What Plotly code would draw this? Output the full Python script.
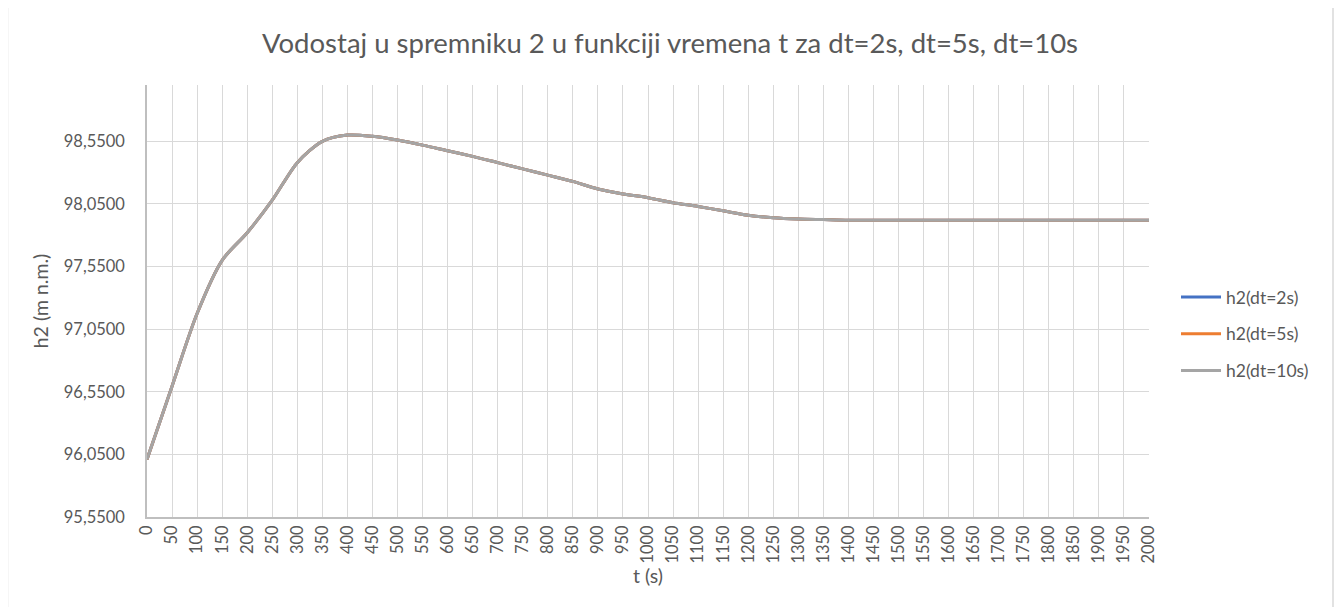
import plotly.graph_objects as go

# Time categories (s)
t_s = [0, 50, 100, 150, 200, 250, 300, 350, 400, 450, 500, 550, 600, 650, 700,
       750, 800, 850, 900, 950, 1000, 1050, 1100, 1150, 1200, 1250, 1300, 1350,
       1400, 1450, 1500, 1550, 1600, 1650, 1700, 1750, 1800, 1850, 1900, 1950, 2000]

# Water level h2 (m n.m.) for the three time steps (curves coincide)
h2_dt2 = [96.01, 96.595, 97.175, 97.60, 97.82, 98.08, 98.38, 98.55, 98.60, 98.59,
          98.56, 98.52, 98.475, 98.43, 98.38, 98.33, 98.28, 98.23, 98.17, 98.13,
          98.10, 98.06, 98.03, 97.995, 97.96, 97.94, 97.93, 97.925,
          97.92, 97.92, 97.92, 97.92, 97.92, 97.92, 97.92, 97.92, 97.92, 97.92,
          97.92, 97.92, 97.92]
h2_dt5 = [96.01, 96.595, 97.175, 97.60, 97.82, 98.08, 98.38, 98.55, 98.60, 98.59,
          98.56, 98.52, 98.475, 98.43, 98.38, 98.33, 98.28, 98.23, 98.17, 98.13,
          98.10, 98.06, 98.03, 97.995, 97.96, 97.94, 97.93, 97.925,
          97.92, 97.92, 97.92, 97.92, 97.92, 97.92, 97.92, 97.92, 97.92, 97.92,
          97.92, 97.92, 97.92]
h2_dt10 = [96.01, 96.595, 97.175, 97.60, 97.82, 98.08, 98.38, 98.55, 98.60, 98.59,
           98.56, 98.52, 98.475, 98.43, 98.38, 98.33, 98.28, 98.23, 98.17, 98.13,
           98.10, 98.06, 98.03, 97.995, 97.96, 97.94, 97.93, 97.925,
           97.92, 97.92, 97.92, 97.92, 97.92, 97.92, 97.92, 97.92, 97.92, 97.92,
           97.92, 97.92, 97.92]

series_names = ["h2(dt=2s)", "h2(dt=5s)", "h2(dt=10s)"]
series_colors = ["#4472C4", "#ED7D31", "#A5A5A5"]

FONT = "Lato"
TXT = "#595959"

fig = go.Figure()
for name, vals, col in zip(series_names, [h2_dt2, h2_dt5, h2_dt10], series_colors):
    fig.add_trace(go.Scatter(
        x=t_s, y=vals, name=name, mode="lines", legendgroup=name,
        line=dict(color=col, width=3, shape="spline", smoothing=0.8),
    ))

# page has an 8px body margin; work in page pixels and convert
OFF = 8
W, H = 1342 - OFF, 607 - OFF
ml, mt = 147 - OFF, 85 - OFF
pw, ph = 1002, 432
mr, mb = W - ml - pw, H - mt - ph

def px_x(p):  # page px -> paper x
    return (p - OFF - ml) / pw

def px_y(p):  # page px -> paper y
    return (mt + ph - (p - OFF)) / ph

fig.update_layout(
    width=W, height=H,
    margin=dict(l=ml, r=mr, t=mt, b=mb, autoexpand=False),
    paper_bgcolor="white", plot_bgcolor="white",
    separators=", ",
    font=dict(family=FONT, color=TXT, size=16),
    title=dict(
        text="Vodostaj u spremniku 2 u funkciji vremena t za dt=2s, dt=5s, dt=10s",
        x=px_x(670), xref="paper", xanchor="center",
        y=1 - (43 - OFF) / H, yref="container", yanchor="middle",
        font=dict(family=FONT, size=27.5, color=TXT),
    ),
    xaxis=dict(
        range=[0, 2000], tickmode="array", tickvals=t_s,
        ticktext=[str(v) for v in t_s], tickangle=-90,
        showgrid=True, gridcolor="#d9d9d9", gridwidth=1,
        showline=True, linecolor="#bfbfbf", linewidth=1.5,
        ticks="", tickfont=dict(size=16.5, color=TXT),
        title=dict(text="t (s)", font=dict(size=19.5, color=TXT), standoff=6),
        zeroline=False,
    ),
    yaxis=dict(
        range=[95.55, 99.0], tick0=95.55, dtick=0.5, tickformat=".4f",
        showgrid=True, gridcolor="#d9d9d9", gridwidth=1,
        showline=True, linecolor="#bfbfbf", linewidth=1.5,
        ticks="", tickfont=dict(size=16.5, color=TXT), ticklabelstandoff=17,
        title=dict(text="h2 (m n.m.)", font=dict(size=19.5, color=TXT), standoff=10),
        zeroline=False,
    ),
    legend=dict(
        x=px_x(1176), xanchor="left", y=px_y(334), yanchor="middle",
        font=dict(size=17.5, color=TXT), bgcolor="rgba(0,0,0,0)",
        traceorder="grouped", tracegroupgap=11, itemwidth=40,
    ),
    shapes=[dict(
        type="rect", xref="paper", yref="paper",
        x0=px_x(7.5), x1=px_x(1333), y0=px_y(615), y1=px_y(-5),
        line=dict(color="#d9d9d9", width=1.5), fillcolor="rgba(0,0,0,0)",
        layer="below",
    )],
)

fig.write_html("out.html")
